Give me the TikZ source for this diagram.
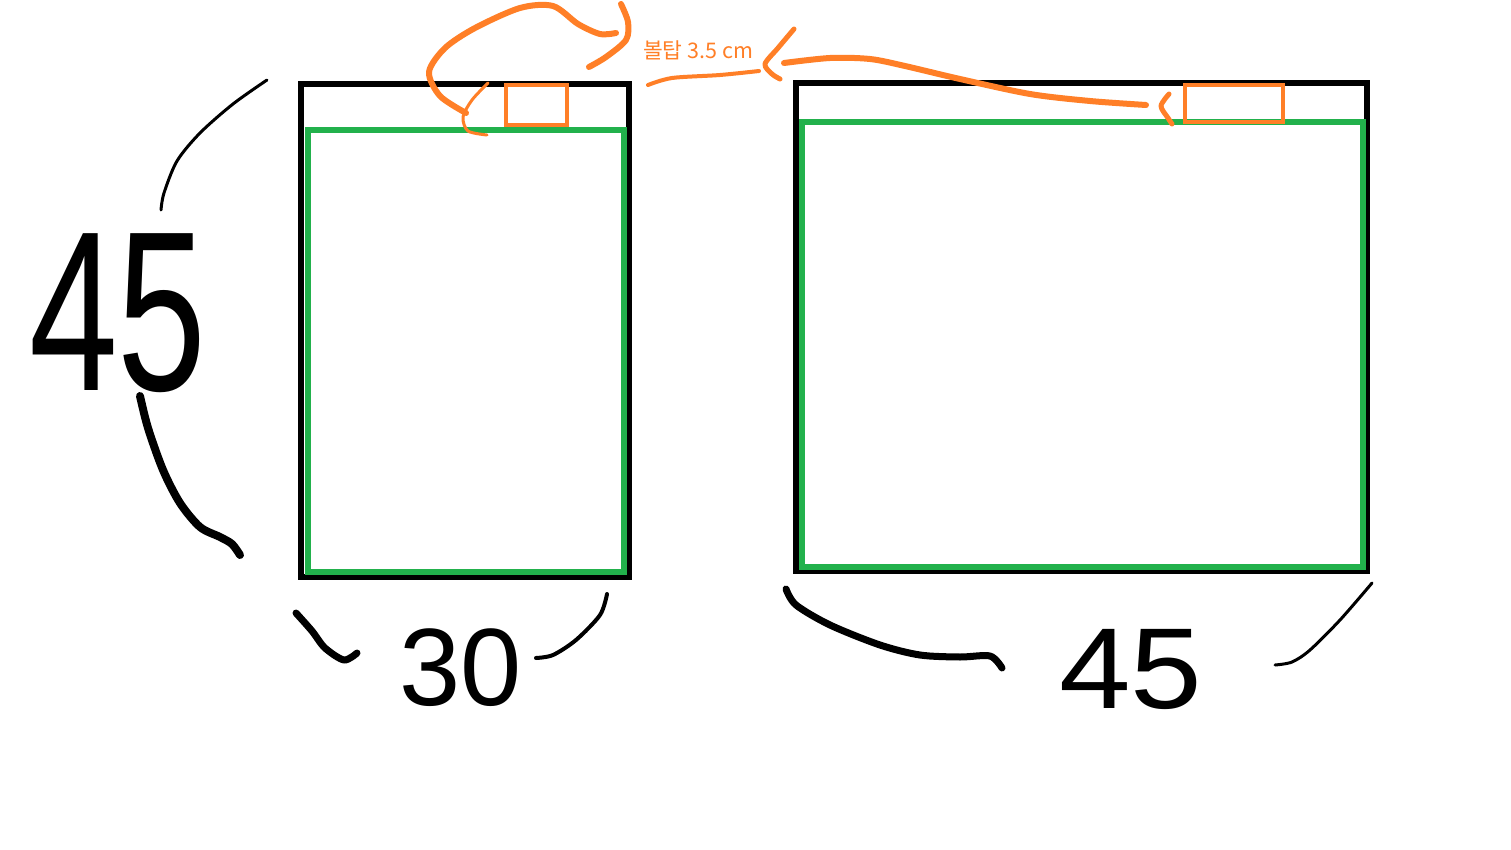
\documentclass[tikz,border=0pt]{standalone}
\usepackage{fontspec}
\setmainfont{Liberation Sans}
\newfontfamily\krfont{Noto Sans CJK KR}
\definecolor{paintorange}{HTML}{FF7F27}
\definecolor{paintgreen}{HTML}{22B14C}
\begin{document}
\begin{tikzpicture}[x=1pt,y=-1pt,
  blackbox/.style={draw=black,line width=6pt,inner sep=0,outer sep=0},
  greenbox/.style={draw=paintgreen,line width=6pt,inner sep=0,outer sep=0},
  orangebox/.style={draw=paintorange,line width=4.5pt,inner sep=0,outer sep=0},
  pen/.style={line cap=round,line join=round},
  blackpen/.style={pen,draw=black},
  orangepen/.style={pen,draw=paintorange},
  digits/.style={inner sep=0,font=\fontsize{#1}{#1}\selectfont}]
\useasboundingbox (0,0) rectangle (1511,850);
\fill[white] (0,0) rectangle (1511,850);
% left cabinet
\node[blackbox,minimum width=328pt,minimum height=493pt] (Lblack) at (465,330.5) {};
\node[greenbox,minimum width=316pt,minimum height=442pt] (Lgreen) at (466,351) {};
\node[orangebox,minimum width=61pt,minimum height=40pt] (Lvalve) at (536.5,105) {};
% right cabinet
\node[blackbox,minimum width=571pt,minimum height=488pt] (Rblack) at (1081.5,327) {};
\node[greenbox,minimum width=561pt,minimum height=445pt] (Rgreen) at (1082.5,344.5) {};
\node[orangebox,minimum width=98pt,minimum height=37pt] (Rvalve) at (1234,103.5) {};
% label
\node[text=paintorange,inner sep=0,font=\krfont\fontsize{21.5}{21.5}\selectfont] (lab) at (698,50) {볼탑 3.5 cm};
% left orange arrow
\draw[orangepen,line width=3pt] plot[smooth] coordinates {(488,83) (472,100) (463,117) (468,131) (487,135)};
\draw[orangepen,line width=6pt] plot[smooth] coordinates {(466,113) (440,96) (429,72) (445,48) (475,28) (520,8) (553,6) (578,24) (600,34) (616,33)};
\draw[orangepen,line width=6pt] plot[smooth] coordinates {(621,4) (628,22) (626,40) (606,57) (589,67)};
% right orange arrow
\draw[orangepen,line width=6pt] plot[smooth] coordinates {(1146,105) (1090,101) (1030,94) (960,79) (905,66) (870,59) (830,58) (784,63)};
\draw[orangepen,line width=5pt] plot[smooth] coordinates {(1169,94) (1161,106) (1168,118) (1172,124)};
\draw[orangepen,line width=5pt] plot[smooth] coordinates {(794,29) (778,48) (765,64) (772,74) (780,79)};
\draw[orangepen,line width=4pt] plot[smooth] coordinates {(648,85) (672,78) (720,75) (759,71)};
% left dimension 45
\draw[blackpen,line width=3pt] plot[smooth] coordinates {(267,80) (233,104) (200,133) (177,161) (164,193) (161,210)};
\draw[blackpen,line width=8pt] plot[smooth] coordinates {(140,396) (148,428) (163,470) (180,503) (200,527) (220,537) (232,544) (240,555)};
\node[digits=228,xscale=0.7,transform shape] (dimL) at (118,313) {45};
% bottom left dimension 30
\draw[blackpen,line width=7pt] plot[smooth] coordinates {(296,613) (312,631) (325,648) (344,660) (357,653)};
\draw[blackpen,line width=4pt] plot[smooth] coordinates {(607,594) (600,615) (576,640) (553,655) (536,658)};
\node[digits=110] (dimB) at (461,668) {30};
% bottom right dimension 45
\draw[blackpen,line width=7pt] plot[smooth] coordinates {(786,589) (796,605) (830,625) (880,645) (920,655) (960,657) (990,656) (1002,668)};
\draw[blackpen,line width=3pt] plot[smooth] coordinates {(1372,583) (1340,620) (1310,650) (1292,662) (1275,665)};
\node[digits=115,xscale=1.12,transform shape] (dimR) at (1131,669) {45};
\end{tikzpicture}
\end{document}
